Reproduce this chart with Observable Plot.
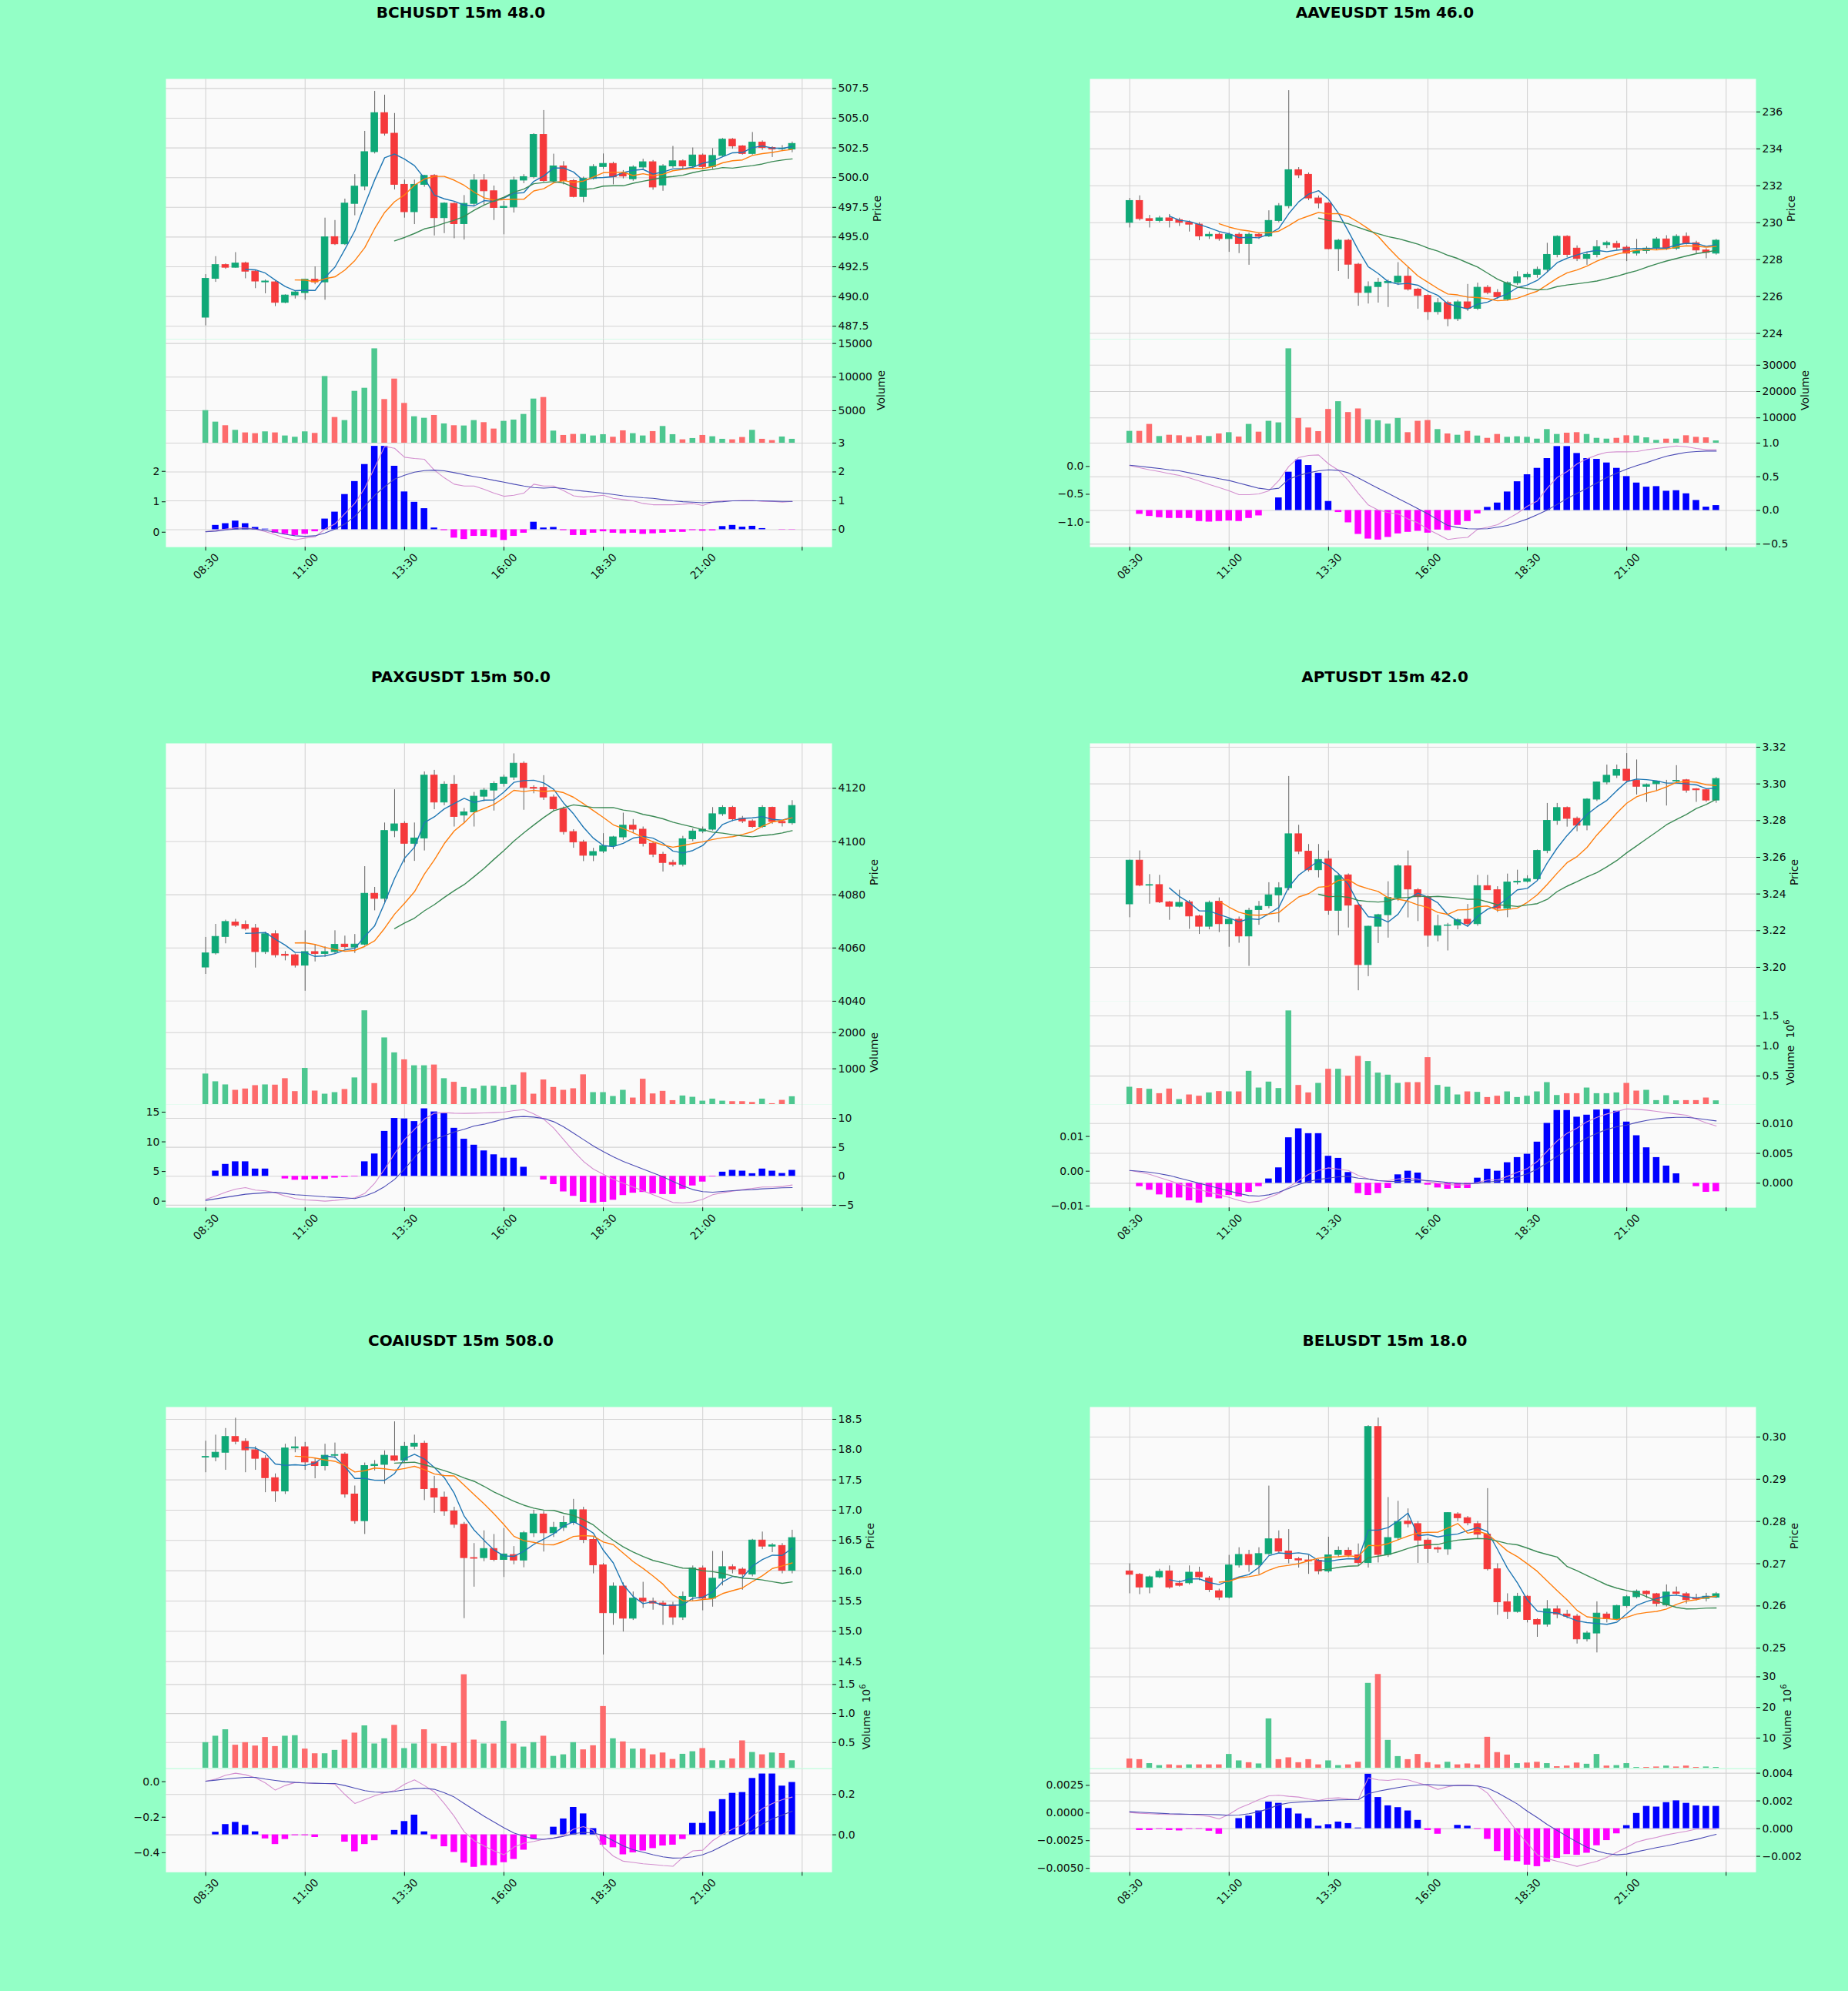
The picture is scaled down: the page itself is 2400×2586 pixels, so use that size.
<!DOCTYPE html>
<html><head><meta charset="utf-8">
<script src="https://cdn.jsdelivr.net/npm/d3@7"></script>
<script src="https://cdn.jsdelivr.net/npm/@observablehq/plot@0.6"></script>
<style>
html,body{margin:0;padding:0;background:#93ffc6;}
#page{position:relative;width:2400px;height:2586px;background:#93ffc6;overflow:hidden;font-family:"DejaVu Sans",sans-serif;}
.title{position:absolute;font-weight:bold;font-size:20px;line-height:20px;white-space:nowrap;color:#000;transform:translateX(-50%);}
.ylab{position:absolute;font-size:14px;line-height:14px;white-space:nowrap;color:#101010;transform:translate(-50%,-50%) rotate(-90deg);}
.ylab sup{font-size:10px;line-height:0;}
</style></head>
<body><div id="page"></div>
<script>
// ---------- shared axis values ----------
const xTickIdx = [0, 10, 20, 30, 40, 50, 60];
const xTickLabels = ["08:30", "11:00", "13:30", "16:00", "18:30", "21:00", ""];
const mavLengths = [5, 10, 20];

// ---------- BCHUSDT ----------
const bchOpen = [488.23,491.5,492.65,492.43,492.8,492.1,491.2,491.2,489.48,490.1,
490.3,491.42,491.2,495.0,494.4,497.8,499.25,502.15,505.43,503.7,
499.4,497.1,499.4,500.15,496.6,497.8,496.1,497.8,499.76,498.86,
497.46,497.5,499.76,500.05,503.6,499.72,500.95,499.72,498.38,499.9,
500.9,501.16,500.3,499.87,500.86,501.3,499.35,500.95,501.38,500.95,
501.87,500.9,501.83,503.2,502.63,502.0,502.95,502.5,502.4,502.37];
const bchHigh = [491.85,493.36,492.75,493.7,492.9,492.2,491.4,491.3,490.15,490.45,
491.45,492.5,496.6,496.4,498.2,500.26,503.9,507.26,506.94,505.4,
499.8,499.8,500.2,500.26,497.9,497.9,498.5,500.26,500.26,499.3,
498.0,500.05,500.26,503.7,505.65,501.98,501.35,499.85,500.05,501.1,
502.0,501.3,500.6,501.0,501.55,501.45,501.1,502.63,501.5,502.5,
502.0,502.45,503.3,503.3,502.7,503.8,503.1,502.6,502.7,503.0];
const bchLow = [487.54,491.2,492.3,492.4,491.5,490.67,490.24,489.16,489.4,489.8,
489.7,491.0,489.7,494.3,494.3,496.8,498.9,502.0,503.5,498.97,
496.6,496.06,499.2,495.1,495.3,494.87,494.76,497.6,497.67,496.4,
495.2,497.03,499.5,499.9,499.6,499.6,499.4,498.3,497.9,499.8,
500.7,499.4,499.9,499.7,500.7,498.95,498.86,500.8,500.7,500.8,
500.7,500.7,501.7,502.4,501.9,501.9,502.3,501.7,502.2,502.1];
const bchClose = [491.49,492.65,492.43,492.78,492.1,491.27,491.27,489.48,490.09,490.35,
491.42,491.2,494.98,494.4,497.82,499.25,502.15,505.43,503.7,499.4,
497.1,499.4,500.15,496.6,497.82,496.1,497.8,499.76,498.86,497.46,
497.55,499.76,500.05,503.6,499.72,500.95,499.72,498.38,499.9,500.9,
501.16,500.04,500.1,500.86,501.3,499.18,500.95,501.38,500.95,501.87,
500.9,501.83,503.2,502.63,502.0,502.95,502.5,502.37,502.45,502.84];
const bchVolume = [5030,3318,2784,2097,1716,1602,1870,1716,1258,1068,
1870,1640,10105,4004,3547,7894,8352,14224,6674,9724,
6102,4118,3890,4309,3050,2784,2745,3547,3242,2288,
3432,3623,4461,6750,6979,1983,1335,1487,1487,1258,
1449,1068,2021,1602,1258,1907,2670,1449,686,877,
1335,1144,763,686,1030,2097,763,572,1106,763];
const bchHist = [0,0.15,0.21,0.30,0.21,0.08,0.02,-0.12,-0.16,-0.20,
-0.16,-0.07,0.37,0.61,1.22,1.67,2.26,2.89,2.89,2.20,
1.31,0.95,0.73,0.06,-0.03,-0.29,-0.34,-0.23,-0.23,-0.28,
-0.37,-0.23,-0.12,0.26,0.06,0.08,-0.03,-0.20,-0.20,-0.12,
-0.07,-0.12,-0.14,-0.12,-0.16,-0.14,-0.12,-0.09,-0.09,-0.03,
-0.05,-0.04,0.11,0.15,0.09,0.12,0.04,0,-0.01,-0.01];
const bchMacd = [0.017,0.059,0.101,0.143,0.143,0.101,0.017,-0.084,-0.194,-0.253,
-0.194,-0.152,0.101,0.270,0.608,0.945,1.451,2.127,2.819,2.759,
2.464,2.422,2.397,2.042,1.789,1.578,1.519,1.519,1.409,1.283,
1.181,1.215,1.283,1.578,1.519,1.519,1.367,1.198,1.156,1.181,
1.215,1.114,1.072,1.030,0.945,0.903,0.903,0.903,0.920,0.945,
0.878,0.987,1.030,1.030,1.046,1.046,1.013,1.013,0.987,1.013];
const bchSignal = [0.017,0.034,0.076,0.101,0.118,0.101,0.059,0,-0.068,-0.118,
-0.135,-0.118,-0.025,0.101,0.270,0.523,0.861,1.215,1.494,1.747,
1.873,1.975,2.025,2.042,2.017,1.958,1.890,1.831,1.772,1.705,
1.646,1.578,1.519,1.468,1.451,1.468,1.435,1.384,1.350,1.316,
1.283,1.241,1.198,1.165,1.131,1.114,1.072,1.030,1.004,0.987,
0.970,0.987,1.004,1.030,1.030,1.030,1.030,1.021,1.013,1.013];

// ---------- AAVEUSDT ----------
const aaveOpen = [230.0,231.18,230.2,230.1,230.24,230.14,230.0,229.9,229.26,229.35,
229.12,229.35,228.85,229.35,229.26,230.1,230.9,232.85,232.6,231.32,
231.04,228.57,229.03,227.73,226.2,226.52,226.73,226.76,227.08,226.38,
226.04,225.16,225.65,224.78,225.69,225.34,226.48,226.2,225.83,226.73,
227.04,227.18,227.45,228.26,229.24,228.6,228.05,228.26,228.79,228.85,
228.65,228.33,228.47,228.6,229.1,228.6,229.24,228.89,228.5,228.33];
const aaveHigh = [231.32,231.46,230.4,230.35,230.45,230.25,230.1,230.0,229.5,229.45,
229.45,229.45,229.45,229.45,230.65,231.04,237.16,232.99,232.7,231.45,
231.1,229.1,229.1,227.8,226.8,226.99,226.9,227.84,227.59,226.45,
226.1,225.9,225.75,225.8,226.66,226.73,226.6,226.38,226.8,227.35,
227.3,227.6,228.89,229.3,229.3,228.75,228.4,229.03,229.0,229.0,
228.75,229.1,228.7,229.2,229.3,229.35,229.45,229.0,228.6,229.1];
const aaveLow = [229.72,230.1,229.72,230.0,229.72,229.8,229.5,229.03,229.1,229.0,
228.4,228.33,227.7,229.1,229.2,230.0,230.76,232.4,231.2,230.76,
228.54,227.36,226.94,225.48,225.6,225.65,225.41,226.6,226.3,225.32,
224.71,225.0,224.37,224.65,225.2,225.25,226.1,225.85,225.76,226.6,
226.9,227.0,227.3,228.1,228.1,227.9,227.7,228.1,228.6,228.5,
227.9,228.2,228.3,228.5,228.5,228.5,228.8,228.3,228.05,228.25];
const aaveClose = [231.18,230.2,230.1,230.24,230.1,230.0,229.9,229.26,229.35,229.12,
229.35,228.85,229.35,229.24,230.1,230.9,232.85,232.57,231.32,231.04,
228.57,229.03,227.73,226.2,226.52,226.76,226.8,227.08,226.38,226.04,
225.16,225.65,224.78,225.69,225.34,226.48,226.2,225.97,226.73,227.04,
227.18,227.45,228.26,229.24,228.26,228.05,228.26,228.68,228.9,228.65,
228.33,228.47,228.6,229.1,228.6,229.24,228.89,228.5,228.37,229.03];
const aaveVolume = [4900,4900,7546,2940,3430,3234,2646,3234,2940,3920,
4410,2744,7546,4606,8722,8134,36260,9800,6174,4802,
13230,16170,12054,13426,9310,8918,7644,9800,4410,8722,
9016,5586,3920,3430,4900,3136,2254,3724,2646,2842,
2646,1960,5586,3724,4214,4410,3724,2254,1960,2254,
3234,3136,2450,1470,1960,1960,3234,2646,2450,1274];
const aaveHist = [0,-0.057,-0.088,-0.107,-0.118,-0.118,-0.118,-0.164,-0.172,-0.164,
-0.156,-0.164,-0.118,-0.08,0,0.187,0.569,0.752,0.668,0.553,
0.134,-0.03,-0.183,-0.355,-0.424,-0.439,-0.4,-0.347,-0.324,-0.309,
-0.336,-0.29,-0.298,-0.221,-0.164,-0.05,0.046,0.111,0.275,0.427,
0.531,0.626,0.771,0.95,0.95,0.847,0.771,0.76,0.706,0.626,
0.504,0.408,0.347,0.355,0.286,0.294,0.248,0.149,0.05,0.073];
const aaveMacd = [0.014,-0.023,-0.060,-0.092,-0.129,-0.161,-0.207,-0.263,-0.323,-0.378,
-0.438,-0.507,-0.507,-0.493,-0.438,-0.253,0,0.161,0.198,0.207,
0.046,-0.069,-0.253,-0.484,-0.691,-0.783,-0.829,-0.853,-0.945,-1.014,
-1.129,-1.221,-1.313,-1.290,-1.276,-1.129,-1.092,-1.046,-0.945,-0.843,
-0.714,-0.622,-0.392,-0.198,-0.092,0.046,0.138,0.207,0.253,0.263,
0.263,0.267,0.300,0.323,0.346,0.369,0.355,0.323,0.300,0.300];
const aaveSignal = [0.023,0.005,-0.018,-0.037,-0.060,-0.078,-0.115,-0.152,-0.184,-0.221,
-0.253,-0.300,-0.346,-0.392,-0.415,-0.392,-0.230,-0.161,-0.115,-0.078,
-0.060,-0.069,-0.115,-0.207,-0.300,-0.392,-0.484,-0.576,-0.668,-0.760,
-0.853,-0.959,-1.060,-1.097,-1.120,-1.124,-1.120,-1.092,-1.060,-1.005,
-0.945,-0.866,-0.783,-0.682,-0.576,-0.484,-0.392,-0.295,-0.198,-0.120,
-0.046,0.014,0.069,0.129,0.184,0.221,0.253,0.267,0.276,0.276];

// ---------- PAXGUSDT ----------
const paxgOpen = [4052.7,4058.0,4064.2,4069.6,4068.7,4067.4,4058.5,4065.2,4057.5,4057.3,
4053.4,4058.5,4057.8,4058.5,4061.3,4060.2,4061.3,4080.4,4078.5,4104.0,
4106.7,4099.2,4101.2,4124.8,4114.7,4121.4,4109.8,4111.0,4116.9,4119.2,
4121.7,4124.1,4129.3,4120.2,4120.2,4116.6,4112.2,4103.6,4099.7,4094.7,
4096.3,4098.3,4101.6,4106.0,4104.5,4099.2,4095.1,4092.0,4091.3,4100.9,
4103.8,4104.5,4110.3,4112.7,4108.6,4107.6,4105.5,4112.7,4107.4,4106.9];
const paxgHigh = [4064.0,4068.9,4070.5,4070.8,4070.2,4068.9,4066.0,4066.5,4058.7,4057.8,
4066.5,4061.2,4060.5,4066.5,4064.5,4065.1,4090.6,4082.8,4107.0,4119.5,
4107.5,4107.0,4126.2,4126.8,4122.5,4124.8,4112.5,4118.5,4120.0,4122.5,
4125.0,4133.0,4130.0,4121.0,4124.8,4117.5,4113.0,4104.5,4100.5,4097.5,
4103.0,4102.0,4110.7,4108.3,4105.5,4100.0,4096.0,4093.0,4102.0,4104.8,
4105.5,4112.8,4113.5,4113.3,4109.5,4108.2,4113.5,4113.0,4108.0,4115.4];
const paxgLow = [4050.1,4057.4,4061.6,4067.8,4066.5,4052.5,4057.6,4056.3,4055.2,4052.5,
4043.8,4054.8,4056.5,4057.6,4059.5,4058.0,4060.8,4074.0,4077.0,4101.5,
4092.0,4092.6,4096.5,4112.0,4113.5,4105.5,4107.0,4105.5,4115.0,4111.5,
4120.5,4123.0,4111.8,4118.0,4115.5,4111.5,4102.5,4097.5,4092.5,4092.5,
4095.5,4097.0,4100.5,4103.0,4098.0,4094.0,4088.6,4090.5,4090.5,4100.0,
4103.0,4104.0,4109.5,4107.5,4106.8,4105.0,4105.0,4106.5,4105.5,4106.2];
const paxgClose = [4058.0,4064.2,4069.8,4068.4,4067.2,4058.5,4065.2,4057.3,4057.1,4053.4,
4058.5,4057.8,4058.5,4061.2,4060.4,4061.3,4080.4,4078.5,4104.0,4106.5,
4099.2,4101.2,4124.8,4114.7,4121.4,4109.3,4111.0,4116.9,4119.2,4121.7,
4124.1,4129.3,4120.2,4119.9,4116.6,4112.2,4103.6,4099.7,4094.7,4096.1,
4098.3,4101.6,4106.0,4104.5,4099.2,4095.1,4092.0,4091.3,4100.9,4103.8,
4104.5,4110.3,4112.7,4108.4,4107.6,4105.5,4112.7,4107.4,4106.9,4113.4];
const paxgVolume = [857,643,557,407,443,536,557,550,729,371,
1014,386,300,343,429,750,2607,593,1857,1443,
1250,1086,1086,1107,729,629,486,450,521,521,
486,550,893,300,693,486,407,450,836,343,
343,236,407,193,714,307,379,121,250,214,
107,164,107,93,93,71,164,36,129,229];
const paxgHist = [0,0.9,2.06,2.51,2.51,1.26,1.26,0,-0.45,-0.67,
-0.63,-0.54,-0.54,-0.31,-0.18,-0.09,2.51,3.86,7.76,10.0,
9.91,9.46,11.66,11.12,10.9,8.3,6.41,5.38,4.39,3.72,
3.14,3.14,1.57,0,-0.63,-1.43,-2.69,-3.45,-4.48,-4.66,
-4.48,-4.13,-3.32,-2.91,-2.78,-3.0,-3.14,-3.14,-2.24,-1.66,
-0.99,-0.09,0.72,1.03,0.9,0.45,1.26,0.9,0.49,1.03];
const paxgMacd = [0.30,0.86,1.51,2.03,2.29,1.86,1.73,1.43,0.86,0.43,
0.22,0.13,0,0.13,0.30,0.56,1.30,3.03,5.40,8.00,
10.38,12.11,13.83,14.83,14.92,14.83,14.79,14.83,14.87,14.92,
15.00,15.26,15.43,14.70,13.83,12.32,10.38,8.43,6.70,5.40,
4.54,3.67,3.03,2.38,1.73,1.08,0.43,-0.22,-0.30,-0.13,
0.30,1.08,1.43,1.69,1.95,2.16,2.38,2.38,2.46,2.72];
const paxgSignal = [0.13,0.39,0.65,0.91,1.17,1.30,1.43,1.51,1.30,1.08,
0.99,0.86,0.73,0.65,0.56,0.43,0.86,1.51,2.46,3.67,
5.40,7.35,9.30,10.38,11.02,11.67,12.11,12.67,12.97,13.40,
13.83,14.18,14.27,14.18,13.92,13.40,12.54,11.46,10.38,9.30,
8.34,7.48,6.70,6.05,5.40,4.76,4.11,3.33,2.59,1.95,
1.60,1.51,1.64,1.77,1.86,1.95,2.08,2.16,2.25,2.29];

// ---------- APTUSDT (volume in 10^6) ----------
const aptOpen = [3.2344,3.2582,3.2446,3.2449,3.2355,3.2331,3.2355,3.2278,3.2222,3.2358,
3.2236,3.2260,3.2169,3.2313,3.2334,3.2393,3.2432,3.2726,3.2631,3.2530,
3.2589,3.2309,3.2502,3.2337,3.2013,3.2222,3.2285,3.2379,3.2551,3.2421,
3.2383,3.2173,3.2227,3.2229,3.2260,3.2236,3.2443,3.2421,3.2320,3.2463,
3.2467,3.2481,3.2635,3.2799,3.2869,3.2810,3.2773,3.2915,3.3008,3.3045,
3.3078,3.3017,3.2985,3.2999,3.3013,3.3014,3.3020,3.2971,3.2966,3.2910];
const aptHigh = [3.2585,3.2635,3.2506,3.2502,3.2360,3.2421,3.2365,3.2285,3.2362,3.2379,
3.2268,3.2275,3.2323,3.2360,3.2462,3.2462,3.3041,3.2775,3.2670,3.2670,
3.2635,3.2510,3.2510,3.2345,3.2225,3.2290,3.2467,3.2560,3.2635,3.2430,
3.2390,3.2285,3.2240,3.2265,3.2343,3.2502,3.2502,3.2440,3.2509,3.2530,
3.2500,3.2640,3.2894,3.2894,3.2875,3.2820,3.2920,3.3010,3.3103,3.3103,
3.3166,3.3131,3.3000,3.3015,3.3020,3.3100,3.3025,3.2975,3.2970,3.3035];
const aptLow = [3.2271,3.2440,3.2345,3.2348,3.2257,3.2325,3.2208,3.2180,3.2205,3.2190,
3.2110,3.2132,3.2006,3.2230,3.2320,3.2243,3.2418,3.2615,3.2520,3.2488,
3.2285,3.2173,3.2215,3.1873,3.1950,3.2130,3.2160,3.2360,3.2270,3.2250,
3.2110,3.2140,3.2090,3.2205,3.2220,3.2225,3.2420,3.2300,3.2271,3.2450,
3.2460,3.2470,3.2620,3.2775,3.2765,3.2740,3.2745,3.2905,3.2995,3.3030,
3.3005,3.2940,3.2900,3.2960,3.2880,3.3005,3.2950,3.2900,3.2900,3.2895];
const aptClose = [3.2582,3.2446,3.2449,3.2355,3.2331,3.2352,3.2278,3.2222,3.2352,3.2236,
3.2260,3.2169,3.2309,3.2331,3.2393,3.2432,3.2726,3.2631,3.2530,3.2586,
3.2309,3.2498,3.2337,3.2013,3.2222,3.2285,3.2379,3.2551,3.2425,3.2383,
3.2173,3.2225,3.2229,3.2257,3.2236,3.2443,3.2421,3.2320,3.2463,3.2467,
3.2481,3.2635,3.2799,3.2869,3.2810,3.2773,3.2915,3.3008,3.3045,3.3076,
3.3017,3.2985,3.2994,3.3013,3.3013,3.3017,3.2964,3.2966,3.2910,3.3027];
const aptVolume = [0.316,0.295,0.282,0.209,0.286,0.111,0.188,0.167,0.222,0.244,
0.239,0.239,0.581,0.303,0.402,0.295,1.585,0.346,0.222,0.380,
0.615,0.615,0.5,0.829,0.744,0.551,0.517,0.380,0.393,0.393,
0.808,0.346,0.316,0.188,0.239,0.231,0.145,0.167,0.239,0.145,
0.167,0.239,0.393,0.179,0.209,0.209,0.303,0.209,0.209,0.222,
0.380,0.252,0.265,0.094,0.175,0.090,0.094,0.094,0.137,0.090];
const aptHist = [0,-0.00056,-0.00116,-0.00194,-0.00246,-0.00246,-0.00293,-0.00332,-0.00237,-0.00259,
-0.00203,-0.00228,-0.00151,-0.00056,0.00073,0.00259,0.00763,0.00914,0.00832,0.00832,
0.00453,0.00418,0.00181,-0.00172,-0.00203,-0.00172,-0.00086,0.00142,0.00203,0.00172,
-0.0003,-0.00078,-0.00099,-0.00086,-0.00086,0.00086,0.00237,0.00203,0.00345,0.00431,
0.00487,0.0069,0.01004,0.0122,0.0122,0.01108,0.01142,0.01228,0.01237,0.01207,
0.01026,0.00797,0.00595,0.00431,0.00289,0.00159,0,-0.00056,-0.00151,-0.00142];
const aptMacd = [0.00022,-0.0003,-0.00089,-0.00185,-0.00273,-0.00369,-0.00458,-0.00531,-0.00605,-0.00679,
-0.00753,-0.00841,-0.009,-0.00863,-0.00753,-0.00642,-0.00458,-0.00273,-0.00089,0.00022,
0.00096,0.00059,0.00022,-0.00125,-0.00221,-0.00273,-0.00273,-0.00221,-0.00199,-0.00221,
-0.00295,-0.00347,-0.00384,-0.00399,-0.00384,-0.00325,-0.00251,-0.00251,-0.00148,-0.0003,
0.00074,0.0028,0.00576,0.00871,0.01092,0.0124,0.01424,0.0155,0.01646,0.0172,
0.01793,0.01779,0.01756,0.0172,0.01683,0.01646,0.01609,0.01498,0.01387,0.01299];
const aptSignal = [0.00022,0,-0.0003,-0.00074,-0.00125,-0.00199,-0.00273,-0.00347,-0.00421,-0.00494,
-0.00568,-0.00642,-0.00701,-0.00716,-0.00679,-0.00605,-0.00494,-0.00384,-0.00295,-0.00236,
-0.00199,-0.00162,-0.00148,-0.00199,-0.00221,-0.00273,-0.00295,-0.00295,-0.00273,-0.00251,
-0.00273,-0.00295,-0.00325,-0.00347,-0.00362,-0.00347,-0.0031,-0.00288,-0.00236,-0.00162,
-0.00074,0.00059,0.00244,0.00428,0.00613,0.00797,0.00959,0.01092,0.01203,0.01277,
0.01328,0.01402,0.01461,0.01506,0.01535,0.0155,0.0155,0.0152,0.01483,0.01446];

// ---------- COAIUSDT (volume in 10^6) ----------
const coaiOpen = [17.87,17.87,17.95,18.21,18.13,17.99,17.85,17.53,17.31,18.02,
18.04,17.79,17.73,17.90,17.92,17.26,16.82,17.73,17.75,17.89,
17.82,18.05,18.10,17.35,17.21,16.98,16.76,16.21,16.21,16.36,
16.18,16.26,16.17,16.62,16.93,16.62,16.71,16.79,17.00,16.51,
16.09,15.30,15.74,15.21,15.54,15.49,15.46,15.43,15.23,15.57,
16.04,15.54,15.87,16.06,16.02,15.94,16.50,16.40,16.41,16.00];
const coaiHigh = [18.14,18.24,18.35,18.52,18.18,18.05,17.90,17.60,18.09,18.21,
18.12,17.85,18.09,18.11,17.95,17.40,17.78,17.82,17.98,18.46,
18.12,18.24,18.14,17.56,17.30,17.05,16.80,16.45,16.66,16.60,
16.70,16.40,16.65,17.00,16.98,16.80,16.90,17.18,17.05,16.55,
16.12,15.80,15.80,15.65,15.81,15.55,15.50,15.48,15.65,16.08,
16.08,16.32,16.32,16.10,16.05,16.52,16.64,16.45,16.45,16.67];
const coaiLow = [17.62,17.80,17.66,18.08,17.62,17.66,17.29,17.13,17.26,17.95,
17.66,17.52,17.65,17.85,17.20,16.77,16.60,17.65,17.43,17.80,
17.78,18.00,17.16,16.95,16.90,16.70,15.21,15.73,16.15,16.15,
15.89,16.10,16.05,16.55,16.31,16.55,16.65,16.75,16.45,15.95,
14.61,15.10,14.99,15.18,15.38,15.35,15.10,15.10,15.18,15.50,
15.34,15.40,15.75,15.95,15.68,15.90,16.35,16.30,15.95,15.95];
const coaiClose = [17.88,17.95,18.21,18.13,17.99,17.85,17.53,17.31,18.02,18.04,
17.79,17.73,17.90,17.91,17.26,16.82,17.73,17.75,17.90,17.82,
18.05,18.10,17.35,17.21,16.98,16.76,16.21,16.20,16.36,16.18,
16.27,16.17,16.62,16.93,16.62,16.71,16.79,17.00,16.51,16.09,
15.30,15.74,15.21,15.54,15.49,15.46,15.43,15.23,15.57,16.04,
15.54,15.87,16.06,16.02,15.94,16.50,16.40,16.42,16.00,16.54];
const coaiVolume = [0.5,0.611,0.722,0.456,0.5,0.442,0.589,0.433,0.611,0.62,
0.389,0.309,0.309,0.367,0.544,0.664,0.789,0.478,0.567,0.798,
0.398,0.478,0.722,0.478,0.433,0.491,1.669,0.544,0.478,0.478,
0.869,0.478,0.424,0.5,0.611,0.264,0.291,0.5,0.376,0.447,
1.122,0.567,0.513,0.389,0.389,0.291,0.322,0.211,0.3,0.344,
0.398,0.189,0.189,0.22,0.531,0.331,0.291,0.322,0.313,0.189];
const coaiHist = [0,0.013,0.051,0.062,0.047,0.015,-0.02,-0.048,-0.023,-0.004,
-0.004,-0.013,0,0,-0.036,-0.084,-0.048,-0.029,0,0.022,
0.066,0.098,0.015,-0.023,-0.059,-0.087,-0.14,-0.161,-0.153,-0.153,
-0.138,-0.122,-0.076,-0.023,0,0.038,0.079,0.136,0.104,0.031,
-0.051,-0.064,-0.099,-0.089,-0.08,-0.068,-0.055,-0.051,-0.023,0.057,
0.057,0.115,0.175,0.206,0.21,0.28,0.302,0.302,0.242,0.26];
const coaiMacd = [0.0029,0.0144,0.0361,0.0477,0.039,0.0217,-0.0072,-0.0477,-0.0217,-0.0043,
-0.0072,-0.0101,-0.0101,-0.0144,-0.0722,-0.1227,-0.1011,-0.0794,-0.0621,-0.0505,
-0.0144,0.0101,-0.0217,-0.0578,-0.1227,-0.1949,-0.2816,-0.3321,-0.361,-0.3899,
-0.4116,-0.3682,-0.3466,-0.3365,-0.3249,-0.3177,-0.3032,-0.2671,-0.2527,-0.2744,
-0.3682,-0.4188,-0.4477,-0.4549,-0.4621,-0.4664,-0.4722,-0.4765,-0.426,-0.3899,
-0.3856,-0.3321,-0.296,-0.2671,-0.2412,-0.1949,-0.1516,-0.1227,-0.1011,-0.0866];
const coaiSignal = [0.0029,0.0087,0.0144,0.0202,0.0245,0.0245,0.0144,0.0072,0,-0.0043,
-0.0072,-0.0087,-0.0101,-0.0101,-0.0217,-0.0361,-0.0505,-0.0578,-0.0606,-0.0549,
-0.0462,-0.039,-0.0361,-0.0433,-0.0621,-0.0866,-0.1227,-0.1588,-0.1949,-0.2267,
-0.2599,-0.2888,-0.3076,-0.322,-0.3249,-0.3177,-0.3076,-0.2931,-0.2859,-0.2888,
-0.3032,-0.3321,-0.361,-0.3827,-0.3971,-0.4116,-0.4231,-0.4303,-0.4289,-0.4231,
-0.4116,-0.3899,-0.361,-0.3321,-0.3076,-0.2744,-0.2383,-0.2094,-0.1877,-0.1661];

// ---------- BELUSDT (volume in 10^6) ----------
const belOpen = [0.2682,0.2674,0.2644,0.2668,0.2682,0.2653,0.2654,0.2679,0.2665,0.2635,
0.2620,0.2696,0.2721,0.2697,0.2723,0.2758,0.2729,0.2711,0.2708,0.2707,
0.2682,0.2721,0.2731,0.2720,0.2702,0.3024,0.2721,0.2761,0.2800,0.2794,
0.2755,0.2737,0.2734,0.2817,0.2808,0.2794,0.2769,0.2687,0.2609,0.2586,
0.2622,0.2567,0.2556,0.2592,0.2580,0.2575,0.2521,0.2535,0.2580,0.2569,
0.2600,0.2621,0.2634,0.2628,0.2602,0.2632,0.2628,0.2618,0.2617,0.2620];
const belHigh = [0.2700,0.2677,0.2671,0.2687,0.2695,0.2660,0.2695,0.2692,0.2670,0.2640,
0.2720,0.2738,0.2732,0.2738,0.2884,0.2778,0.2781,0.2715,0.2720,0.2710,
0.2763,0.2740,0.2738,0.2747,0.3027,0.3045,0.2857,0.2848,0.2830,0.2800,
0.2760,0.2740,0.2821,0.2821,0.2812,0.2800,0.2878,0.2700,0.2629,0.2630,
0.2625,0.2570,0.2613,0.2600,0.2590,0.2580,0.2540,0.2610,0.2585,0.2602,
0.2625,0.2638,0.2636,0.2630,0.2650,0.2645,0.2632,0.2628,0.2630,0.2632];
const belLow = [0.2629,0.2627,0.2629,0.2665,0.2640,0.2645,0.2650,0.2660,0.2632,0.2613,
0.2617,0.2690,0.2680,0.2674,0.2720,0.2725,0.2700,0.2690,0.2675,0.2674,
0.2678,0.2715,0.2715,0.2695,0.2690,0.2702,0.2715,0.2755,0.2785,0.2701,
0.2701,0.2725,0.2720,0.2800,0.2790,0.2760,0.2683,0.2578,0.2568,0.2583,
0.2560,0.2526,0.2550,0.2570,0.2570,0.2510,0.2515,0.2489,0.2560,0.2565,
0.2595,0.2617,0.2618,0.2598,0.2598,0.2625,0.2605,0.2612,0.2610,0.2618];
const belClose = [0.2674,0.2644,0.2668,0.2681,0.2644,0.2648,0.2679,0.2668,0.2638,0.2620,
0.2696,0.2721,0.2697,0.2723,0.2758,0.2729,0.2711,0.2708,0.2706,0.2682,
0.2720,0.2731,0.2720,0.2702,0.3024,0.2721,0.2761,0.2799,0.2794,0.2755,
0.2735,0.2734,0.2820,0.2808,0.2796,0.2769,0.2687,0.2609,0.2586,0.2622,
0.2567,0.2556,0.2592,0.2580,0.2575,0.2521,0.2535,0.2582,0.2569,0.2600,
0.2621,0.2634,0.2628,0.2605,0.2632,0.2629,0.2614,0.2616,0.2622,0.2628];
const belVolume = [3.2,3.0,1.7,1.05,1.3,1.05,1.3,1.3,1.3,1.3,
4.7,2.6,2.0,1.6,16.3,3.0,3.6,2.0,3.0,1.3,
2.6,1.05,1.3,2.15,27.9,30.8,9.3,4.0,3.0,4.7,
2.0,1.3,2.15,1.3,1.6,1.3,10.3,5.3,4.5,1.7,
1.9,2.15,1.7,0.7,0.9,1.9,1.5,4.7,0.9,1.05,
1.7,0.45,0.45,0.6,0.9,0.6,0.9,0.45,0.6,0.45];
const belHist = [0,-0.00013,-0.00013,-0.00004,-0.00013,-0.00016,-0.00004,-0.00004,-0.00018,-0.0004,
0,0.00073,0.00091,0.00128,0.00192,0.00183,0.00146,0.00106,0.00073,0.00018,
0.00029,0.00048,0.00037,0.00005,0.00393,0.00225,0.00165,0.00152,0.00128,0.0006,
-0.00013,-0.0004,0,0.00024,0.00018,-0.00004,-0.00077,-0.00165,-0.00232,-0.00238,
-0.00263,-0.00274,-0.00242,-0.00214,-0.00187,-0.00192,-0.00177,-0.00123,-0.00086,-0.00037,
0.00022,0.0011,0.00161,0.00156,0.00188,0.00201,0.00183,0.00165,0.00161,0.00161];
const belMacd = [0.000046,-0.000023,-0.00007,-0.000116,-0.000139,-0.000139,-0.000139,-0.000209,-0.000302,-0.000534,
-0.000116,0.000441,0.000812,0.001207,0.001555,0.001602,0.001509,0.001439,0.001277,0.001137,
0.001323,0.00137,0.001277,0.001207,0.00318,0.002994,0.002948,0.003064,0.002994,0.002716,
0.002484,0.002136,0.002368,0.00253,0.00253,0.002437,0.001787,0.000627,-0.000534,-0.001695,
-0.002739,-0.003784,-0.004132,-0.004364,-0.004596,-0.004828,-0.004596,-0.004364,-0.004016,-0.003551,
-0.003087,-0.002623,-0.002391,-0.002205,-0.001973,-0.001811,-0.001648,-0.001462,-0.001462,-0.001462];
const belSignal = [0.000116,0.00007,0.000023,-0.000023,-0.00007,-0.000093,-0.000116,-0.000116,-0.000139,-0.000163,
-0.000209,-0.000186,-0.00007,0.000116,0.000395,0.000743,0.000905,0.000975,0.001045,0.001091,
0.001137,0.001184,0.001207,0.001207,0.001741,0.001973,0.002136,0.002298,0.002437,0.00253,
0.002577,0.00253,0.002484,0.002484,0.002484,0.002437,0.002252,0.001834,0.001323,0.000812,
0.000162,-0.000418,-0.001045,-0.001578,-0.002112,-0.002623,-0.003087,-0.003435,-0.003668,-0.003784,
-0.003714,-0.003505,-0.003319,-0.003134,-0.002971,-0.002786,-0.002577,-0.002391,-0.002159,-0.001927];

// ---------- per-chart scale settings (tick values, domains) ----------
const charts = [
  {title:"BCHUSDT 15m 48.0", col:0, row:0, o:bchOpen, h:bchHigh, l:bchLow, c:bchClose, v:bchVolume, hist:bchHist, macd:bchMacd, sig:bchSignal,
   priceDomain:[486.43,508.3], priceTicks:[487.5,490,492.5,495,497.5,500,502.5,505,507.5], priceDigits:1,
   volTicks:[5000,10000,15000], volDigits:0, volLabel:"Volume", volSup:false,
   histDomain:[-0.605,3.0], histTicks:[0,1,2,3], histDigits:0,
   lineDomain:[-0.49,2.93], lineTicks:[0,1,2], lineDigits:0},
  {title:"AAVEUSDT 15m 46.0", col:1, row:0, o:aaveOpen, h:aaveHigh, l:aaveLow, c:aaveClose, v:aaveVolume, hist:aaveHist, macd:aaveMacd, sig:aaveSignal,
   priceDomain:[223.70,237.79], priceTicks:[224,226,228,230,232,234,236], priceDigits:0,
   volTicks:[10000,20000,30000], volDigits:0, volLabel:"Volume", volSup:false,
   histDomain:[-0.545,1.0], histTicks:[-0.5,0,0.5,1.0], histDigits:1,
   lineDomain:[-1.45,0.42], lineTicks:[-1.0,-0.5,0], lineDigits:1},
  {title:"PAXGUSDT 15m 50.0", col:0, row:1, o:paxgOpen, h:paxgHigh, l:paxgLow, c:paxgClose, v:paxgVolume, hist:paxgHist, macd:paxgMacd, sig:paxgSignal,
   priceDomain:[4039.9,4136.9], priceTicks:[4040,4060,4080,4100,4120], priceDigits:0,
   volTicks:[1000,2000], volDigits:0, volLabel:"Volume", volSup:false,
   histDomain:[-5.43,12.4], histTicks:[-5,0,5,10], histDigits:0,
   lineDomain:[-1.1,16.3], lineTicks:[0,5,10,15], lineDigits:0},
  {title:"APTUSDT 15m 42.0", col:1, row:1, o:aptOpen, h:aptHigh, l:aptLow, c:aptClose, v:aptVolume, hist:aptHist, macd:aptMacd, sig:aptSignal,
   priceDomain:[3.1814,3.3221], priceTicks:[3.20,3.22,3.24,3.26,3.28,3.30,3.32], priceDigits:2,
   volTicks:[0.5,1.0,1.5], volDigits:1, volLabel:"Volume", volSup:true,
   histDomain:[-0.0041,0.0132], histTicks:[0,0.005,0.010], histDigits:3,
   lineDomain:[-0.0105,0.0192], lineTicks:[-0.01,0,0.01], lineDigits:2},
  {title:"COAIUSDT 15m 508.0", col:0, row:2, o:coaiOpen, h:coaiHigh, l:coaiLow, c:coaiClose, v:coaiVolume, hist:coaiHist, macd:coaiMacd, sig:coaiSignal,
   priceDomain:[14.435,18.703], priceTicks:[14.5,15,15.5,16,16.5,17,17.5,18,18.5], priceDigits:1,
   volTicks:[0.5,1.0,1.5], volDigits:1, volLabel:"Volume", volSup:true,
   histDomain:[-0.186,0.327], histTicks:[0,0.2], histDigits:1,
   lineDomain:[-0.51,0.072], lineTicks:[-0.4,-0.2,0], lineDigits:1},
  {title:"BELUSDT 15m 18.0", col:1, row:2, o:belOpen, h:belHigh, l:belLow, c:belClose, v:belVolume, hist:belHist, macd:belMacd, sig:belSignal,
   priceDomain:[0.2459,0.3071], priceTicks:[0.25,0.26,0.27,0.28,0.29,0.30], priceDigits:2,
   volTicks:[10,20,30], volDigits:0, volLabel:"Volume", volSup:true,
   histDomain:[-0.00315,0.00431], histTicks:[-0.002,0,0.002,0.004], histDigits:3,
   lineDomain:[-0.00536,0.00399], lineTicks:[-0.005,-0.0025,0,0.0025], lineDigits:4}
];

// ---------- layout & style ----------
const COL_LEFT = [215, 1415];
const BOX_W = 865;
const ROW_TOP = [102, 965, 1826.7];
const ROW_H = [608, 603.5, 604.3];
const ML = 90, MR = 120, MT = 12, MB = 12, MBX = 72;
const X_DOMAIN = [-4, 63];
const UP = "#0fa877", DOWN = "#f5393b", VUP = "#4dc790", VDOWN = "#fd6b6c";
const WICK = "#606060", GRID = "#d3d3d3", FACE = "#fafafa";
const MAV_COLORS = ["#1f77b4", "#ff7f0e", "#3b8a55"];
const HIST_UP = "#0000ff", HIST_DOWN = "#ff00ff";
const MACD_COLOR = "#d38fcf", SIGNAL_COLOR = "#4b4bb5";
const STYLE = "background: transparent; font: 14px 'DejaVu Sans', sans-serif; color: #101010; overflow: visible;";

const fmt = n => d => d.toFixed(n).replace("-", "\u2212");
const labelWidth = s => [...s].reduce((w, ch) => w + (ch === "." ? 4.45 : ch === "\u2212" ? 11.7 : 8.9), 0);

const page = document.getElementById("page");
function place(el, left, top) {
  el.style.position = "absolute";
  el.style.left = left + "px";
  el.style.top = top + "px";
  page.appendChild(el);
}
function addDiv(cls, html, left, top) {
  const d = document.createElement("div");
  d.className = cls;
  d.innerHTML = html;
  d.style.left = left + "px";
  d.style.top = top + "px";
  page.appendChild(d);
}

for (const cfg of charts) {
  const L = COL_LEFT[cfg.col], T = ROW_TOP[cfg.row], H = ROW_H[cfg.row];
  const hP = H * 5 / 9, hV = H * 2 / 9, hM = H * 2 / 9;
  const tV = T + hP, tM = T + hP + hV;
  const rows = cfg.o.map((o, i) => ({i, o, h: cfg.h[i], l: cfg.l[i], c: cfg.c[i], v: cfg.v[i],
    hist: cfg.hist[i], macd: cfg.macd[i], sig: cfg.sig[i], up: cfg.c[i] >= cfg.o[i]}));
  const W = BOX_W + ML + MR;
  const xOpt = {domain: X_DOMAIN, axis: null, label: null};

  // price panel
  const priceFmt = fmt(cfg.priceDigits);
  place(Plot.plot({
    width: W, height: hP + MT + MB, marginLeft: ML, marginRight: MR, marginTop: MT, marginBottom: MB,
    style: STYLE, x: xOpt, y: {domain: cfg.priceDomain, axis: null, label: null},
    marks: [
      Plot.frame({fill: FACE, stroke: "none"}),
      Plot.gridX(xTickIdx, {stroke: GRID, strokeOpacity: 1, strokeWidth: 1.1}),
      Plot.gridY(cfg.priceTicks, {stroke: GRID, strokeOpacity: 1, strokeWidth: 1.1}),
      Plot.axisY(cfg.priceTicks, {anchor: "right", tickSize: 5, tickPadding: 3, tickFormat: priceFmt, label: null}),
      Plot.ruleX(rows, {x: "i", y1: "l", y2: "h", stroke: WICK, strokeWidth: 1, clip: true}),
      Plot.rect(rows, {x1: d => d.i - 0.33, x2: d => d.i + 0.33, y1: "o", y2: "c",
        fill: d => d.up ? UP : DOWN, stroke: d => d.up ? UP : DOWN, strokeWidth: 1, clip: true}),
      ...mavLengths.map((k, j) => Plot.lineY(rows, Plot.windowY({k, anchor: "end", strict: true},
        {x: "i", y: "c", stroke: MAV_COLORS[j], strokeWidth: 1.4, clip: true})))
    ]
  }), L - ML, T - MT);

  // volume panel
  const vMin = 0.3 * d3.min(cfg.v), vMax = 1.1 * d3.max(cfg.v);
  const volFmt = fmt(cfg.volDigits);
  place(Plot.plot({
    width: W, height: hV + MT + MB, marginLeft: ML, marginRight: MR, marginTop: MT, marginBottom: MB,
    style: STYLE, x: xOpt, y: {domain: [vMin, vMax], axis: null, label: null},
    marks: [
      Plot.frame({fill: FACE, stroke: "none"}),
      Plot.gridX(xTickIdx, {stroke: GRID, strokeOpacity: 1, strokeWidth: 1.1}),
      Plot.gridY(cfg.volTicks, {stroke: GRID, strokeOpacity: 1, strokeWidth: 1.1}),
      Plot.axisY(cfg.volTicks, {anchor: "right", tickSize: 5, tickPadding: 3, tickFormat: volFmt, label: null}),
      Plot.rect(rows, {x1: d => d.i - 0.29, x2: d => d.i + 0.29, y1: vMin, y2: "v",
        fill: d => d.up ? VUP : VDOWN, clip: true})
    ]
  }), L - ML, tV - MT);

  // MACD histogram panel (right axis) with the time axis
  const histFmt = fmt(cfg.histDigits);
  place(Plot.plot({
    width: W, height: hM + MT + MBX, marginLeft: ML, marginRight: MR, marginTop: MT, marginBottom: MBX,
    style: STYLE, x: xOpt, y: {domain: cfg.histDomain, axis: null, label: null},
    marks: [
      Plot.frame({fill: FACE, stroke: "none"}),
      Plot.gridX(xTickIdx, {stroke: GRID, strokeOpacity: 1, strokeWidth: 1.1}),
      Plot.gridY(cfg.histTicks, {stroke: GRID, strokeOpacity: 1, strokeWidth: 1.1}),
      Plot.axisY(cfg.histTicks, {anchor: "right", tickSize: 5, tickPadding: 3, tickFormat: histFmt, label: null}),
      Plot.rect(rows, {x1: d => d.i - 0.33, x2: d => d.i + 0.33, y1: 0, y2: "hist",
        fill: d => d.hist >= 0 ? HIST_UP : HIST_DOWN, clip: true}),
      Plot.axisX(xTickIdx, {anchor: "bottom", tickSize: 5, tickFormat: () => "", label: null}),
      Plot.axisX(xTickIdx, {anchor: "bottom", tickSize: 0, tickPadding: 11, tickRotate: -45, dx: 15,
        tickFormat: d => xTickLabels[d / 10], label: null})
    ]
  }), L - ML, tM - MT);

  // MACD / signal lines (left axis), overlaid
  const lineFmt = fmt(cfg.lineDigits);
  place(Plot.plot({
    width: W, height: hM + MT + MBX, marginLeft: ML, marginRight: MR, marginTop: MT, marginBottom: MBX,
    style: STYLE, x: xOpt, y: {domain: cfg.lineDomain, axis: null, label: null},
    marks: [
      Plot.axisY(cfg.lineTicks, {anchor: "left", tickSize: 5, tickPadding: 3, tickFormat: lineFmt, label: null}),
      Plot.lineY(rows, {x: "i", y: "macd", stroke: MACD_COLOR, strokeWidth: 1.1, clip: true}),
      Plot.lineY(rows, {x: "i", y: "sig", stroke: SIGNAL_COLOR, strokeWidth: 1.1, clip: true})
    ]
  }), L - ML, tM - MT);

  // texts
  addDiv("title", cfg.title, L + 383.5, T - 95.6);
  const pw = d3.max(cfg.priceTicks, t => labelWidth(priceFmt(t)));
  addDiv("ylab", "Price", L + BOX_W + 8 + pw + 11, T + hP / 2);
  const vw = d3.max(cfg.volTicks, t => labelWidth(volFmt(t)));
  const vhtml = cfg.volSup ? cfg.volLabel + "&nbsp;&nbsp;10<sup>6</sup>" : cfg.volLabel;
  addDiv("ylab", vhtml, L + BOX_W + 8 + vw + (cfg.volSup ? 15 : 11), tV + hV / 2);
}
</script>
</body></html>
